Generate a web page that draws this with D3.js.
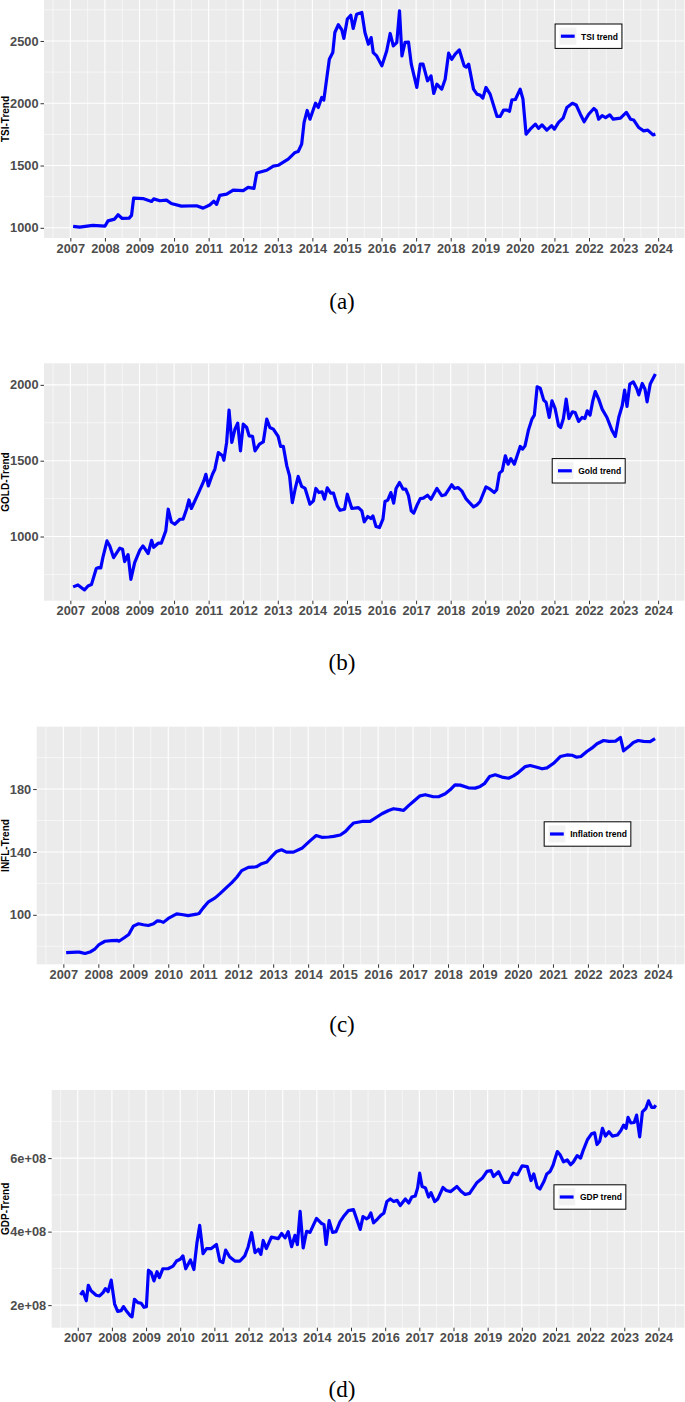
<!DOCTYPE html>
<html>
<head>
<meta charset="utf-8">
<script src="https://cdn.jsdelivr.net/npm/d3@7"></script>
<style>
  body { margin: 0; background: #fff; }
  svg { display: block; }
  .axis .tick text { font-family: "Liberation Sans", Arial, sans-serif; font-weight: bold; font-size: 12.8px; fill: #4d4d4d; }
  .axis .tick line { stroke: #333; stroke-width: 1; }
</style>
</head>
<body>
<svg id="chart" width="685" height="1402"></svg>
<script>
// series: [decimal year, value]
const tsiSeries = [
  [2007.08,1012],[2007.27,1005],[2007.65,1020],[2008.0,1013],[2008.09,1056],[2008.28,1070],[2008.38,1105],[2008.5,1075],
  [2008.70,1078],[2008.77,1100],[2008.83,1238],[2009.1,1235],[2009.35,1212],[2009.41,1232],[2009.59,1217],[2009.78,1222],
  [2009.92,1195],[2010.21,1174],[2010.65,1177],[2010.84,1158],[2011.03,1183],[2011.15,1213],[2011.23,1188],[2011.32,1260],
  [2011.52,1270],[2011.71,1302],[2012.0,1298],[2012.14,1324],[2012.31,1316],[2012.39,1440],[2012.68,1462],[2012.87,1495],
  [2013.01,1502],[2013.30,1551],[2013.50,1605],[2013.59,1613],[2013.69,1672],[2013.76,1846],[2013.85,1942],[2013.93,1872],
  [2014.09,2000],[2014.17,1966],[2014.27,2046],[2014.33,2025],[2014.49,2353],[2014.59,2407],[2014.65,2568],[2014.75,2630],
  [2014.85,2590],[2014.91,2520],[2015.01,2675],[2015.11,2707],[2015.18,2600],[2015.28,2715],[2015.43,2729],[2015.52,2568],
  [2015.62,2474],[2015.70,2527],[2015.76,2407],[2015.86,2380],[2016.01,2300],[2016.15,2421],[2016.25,2560],[2016.34,2460],
  [2016.44,2487],[2016.52,2742],[2016.59,2380],[2016.68,2488],[2016.78,2490],[2016.86,2314],[2017.02,2127],[2017.12,2314],
  [2017.20,2314],[2017.33,2180],[2017.43,2220],[2017.51,2079],[2017.60,2153],[2017.74,2113],[2017.84,2193],[2017.94,2402],
  [2018.03,2353],[2018.13,2394],[2018.25,2428],[2018.39,2300],[2018.45,2290],[2018.52,2314],[2018.66,2113],[2018.76,2073],
  [2018.85,2065],[2018.93,2041],[2019.02,2127],[2019.14,2073],[2019.34,1894],[2019.43,1894],[2019.53,1945],[2019.63,1945],
  [2019.70,1935],[2019.77,2027],[2019.87,2030],[2020.01,2113],[2020.09,2033],[2020.18,1752],[2020.30,1792],[2020.45,1832],
  [2020.54,1798],[2020.64,1826],[2020.78,1784],[2020.92,1820],[2021.0,1792],[2021.12,1846],[2021.25,1880],[2021.36,1966],
  [2021.52,2000],[2021.63,1986],[2021.75,1912],[2021.86,1851],[2021.99,1912],[2022.14,1958],[2022.21,1940],[2022.28,1872],
  [2022.38,1900],[2022.48,1885],[2022.60,1907],[2022.70,1872],[2022.91,1881],[2023.08,1926],[2023.20,1872],[2023.29,1866],
  [2023.44,1805],[2023.58,1778],[2023.70,1784],[2023.85,1746],[2023.92,1752]
];

const goldSeries = [
  [2007.08,668],[2007.22,681],[2007.41,648],[2007.51,674],[2007.61,683],[2007.75,789],[2007.82,795],[2007.88,793],
  [2007.94,861],[2008.06,971],[2008.14,938],[2008.25,861],[2008.43,923],[2008.51,916],[2008.57,835],[2008.67,881],
  [2008.75,718],[2008.86,828],[2009.01,910],[2009.10,938],[2009.25,888],[2009.35,975],[2009.41,929],[2009.54,956],
  [2009.63,956],[2009.76,1037],[2009.83,1180],[2009.92,1096],[2010.02,1081],[2010.17,1114],[2010.26,1114],[2010.36,1180],
  [2010.43,1241],[2010.50,1185],[2010.72,1294],[2010.86,1367],[2010.92,1410],[2010.99,1334],[2011.11,1411],[2011.18,1444],
  [2011.28,1554],[2011.40,1532],[2011.44,1503],[2011.52,1620],[2011.59,1833],[2011.67,1620],[2011.76,1708],[2011.84,1747],
  [2011.92,1565],[2012.0,1741],[2012.10,1719],[2012.17,1664],[2012.27,1660],[2012.34,1565],[2012.47,1609],[2012.58,1624],
  [2012.68,1774],[2012.77,1719],[2012.87,1708],[2013.01,1660],[2013.08,1594],[2013.16,1594],[2013.26,1466],[2013.34,1400],
  [2013.42,1224],[2013.50,1312],[2013.59,1396],[2013.69,1330],[2013.79,1317],[2013.93,1213],[2014.03,1235],[2014.10,1317],
  [2014.19,1290],[2014.28,1295],[2014.35,1246],[2014.43,1321],[2014.53,1286],[2014.61,1286],[2014.72,1202],[2014.80,1173],
  [2014.93,1180],[2015.01,1279],[2015.14,1185],[2015.33,1191],[2015.43,1169],[2015.50,1097],[2015.60,1132],[2015.69,1119],
  [2015.75,1136],[2015.84,1066],[2015.94,1059],[2016.04,1114],[2016.10,1231],[2016.18,1240],[2016.27,1290],[2016.35,1220],
  [2016.42,1317],[2016.52,1356],[2016.62,1313],[2016.70,1313],[2016.78,1269],[2016.86,1169],[2016.93,1154],[2017.04,1213],
  [2017.12,1250],[2017.21,1253],[2017.33,1272],[2017.43,1246],[2017.60,1317],[2017.74,1269],[2017.84,1275],[2018.03,1341],
  [2018.11,1317],[2018.21,1323],[2018.32,1301],[2018.45,1246],[2018.66,1195],[2018.76,1209],[2018.85,1231],[2019.02,1327],
  [2019.14,1312],[2019.26,1290],[2019.33,1308],[2019.41,1418],[2019.49,1433],[2019.58,1532],[2019.66,1477],[2019.74,1514],
  [2019.84,1477],[2020.01,1594],[2020.08,1576],[2020.15,1598],[2020.25,1703],[2020.35,1774],[2020.42,1800],[2020.50,1987],
  [2020.59,1978],[2020.69,1899],[2020.76,1884],[2020.85,1785],[2020.93,1895],[2021.02,1844],[2021.12,1730],[2021.18,1719],
  [2021.26,1778],[2021.34,1906],[2021.42,1778],[2021.52,1822],[2021.60,1818],[2021.70,1759],[2021.80,1785],[2021.88,1778],
  [2021.95,1829],[2022.03,1800],[2022.11,1895],[2022.18,1956],[2022.28,1906],[2022.38,1840],[2022.52,1785],[2022.67,1697],
  [2022.76,1660],[2022.86,1785],[2022.96,1862],[2023.03,1965],[2023.10,1858],[2023.18,2005],[2023.28,2020],[2023.38,1976],
  [2023.44,1934],[2023.54,2009],[2023.62,1971],[2023.68,1888],[2023.77,2005],[2023.92,2071]
];

const inflSeries = [
  [2007.08,75.9],[2007.38,76.3],[2007.46,76.3],[2007.62,75.4],[2007.76,76.3],[2007.91,78.4],[2008.02,81.1],[2008.19,83.2],
  [2008.38,83.6],[2008.53,83.8],[2008.59,83.2],[2008.74,85.4],[2008.87,87.5],[2009.0,92.8],[2009.15,94.3],[2009.29,93.7],
  [2009.43,93.2],[2009.58,94.3],[2009.69,96.2],[2009.77,96.0],[2009.86,95.2],[2010.0,97.7],[2010.24,100.6],[2010.38,100.2],
  [2010.57,99.5],[2010.81,100.4],[2010.88,100.8],[2011.0,104.4],[2011.15,108.3],[2011.34,110.8],[2011.48,113.5],[2011.67,117.5],
  [2011.81,120.3],[2011.96,123.9],[2012.10,128.1],[2012.29,130.2],[2012.53,130.6],[2012.67,132.5],[2012.82,133.6],[2012.96,137.2],
  [2013.10,140.3],[2013.24,141.4],[2013.38,139.9],[2013.58,139.9],[2013.82,142.3],[2014.06,147.2],[2014.23,150.4],[2014.39,149.3],
  [2014.59,149.5],[2014.73,149.9],[2014.92,150.8],[2015.07,153.1],[2015.20,156.3],[2015.30,158.4],[2015.54,159.4],[2015.77,159.4],
  [2015.92,161.6],[2016.11,164.3],[2016.30,166.4],[2016.44,167.5],[2016.62,166.9],[2016.73,166.4],[2016.88,169.6],[2017.01,172.1],
  [2017.20,175.7],[2017.35,176.4],[2017.58,175.1],[2017.73,175.1],[2017.92,177.0],[2018.06,179.5],[2018.20,182.7],[2018.35,182.5],
  [2018.58,180.8],[2018.78,180.6],[2018.92,181.7],[2019.04,183.4],[2019.19,188.0],[2019.35,189.1],[2019.54,187.6],[2019.73,186.9],
  [2019.87,188.4],[2020.01,190.5],[2020.21,194.3],[2020.35,195.0],[2020.54,193.9],[2020.69,192.9],[2020.83,193.5],[2021.02,196.4],
  [2021.21,200.7],[2021.40,201.7],[2021.55,201.5],[2021.68,200.3],[2021.80,200.7],[2021.97,203.9],[2022.11,206.0],[2022.26,208.8],
  [2022.45,210.9],[2022.60,210.3],[2022.79,210.5],[2022.93,212.8],[2023.02,204.3],[2023.17,207.0],[2023.30,209.6],[2023.44,210.9],
  [2023.59,210.3],[2023.78,210.2],[2023.92,212.1]
];

const gdpSeries = [
  [2007.08,2.28e8],[2007.15,2.37e8],[2007.25,2.12e8],[2007.31,2.54e8],[2007.39,2.39e8],[2007.54,2.27e8],[2007.64,2.25e8],[2007.74,2.34e8],
  [2007.81,2.45e8],[2007.89,2.37e8],[2007.98,2.68e8],[2008.08,2.03e8],[2008.17,1.83e8],[2008.27,1.85e8],[2008.34,1.96e8],[2008.42,1.85e8],
  [2008.54,1.71e8],[2008.59,1.68e8],[2008.66,2.16e8],[2008.76,2.07e8],[2008.86,2.05e8],[2008.94,1.94e8],[2009.01,1.96e8],[2009.07,2.95e8],
  [2009.15,2.89e8],[2009.23,2.66e8],[2009.32,2.91e8],[2009.39,2.75e8],[2009.49,2.99e8],[2009.64,2.99e8],[2009.79,3.06e8],[2009.89,3.20e8],
  [2010.0,3.25e8],[2010.08,3.34e8],[2010.16,2.99e8],[2010.30,3.23e8],[2010.40,2.97e8],[2010.49,3.70e8],[2010.57,4.17e8],[2010.67,3.40e8],
  [2010.77,3.54e8],[2010.91,3.54e8],[2011.06,3.65e8],[2011.16,3.20e8],[2011.25,3.16e8],[2011.33,3.50e8],[2011.45,3.31e8],[2011.60,3.20e8],
  [2011.75,3.20e8],[2011.89,3.34e8],[2011.99,3.59e8],[2012.09,3.97e8],[2012.19,3.43e8],[2012.29,3.52e8],[2012.36,3.38e8],[2012.43,3.76e8],
  [2012.52,3.54e8],[2012.67,3.85e8],[2012.87,3.81e8],[2012.97,3.95e8],[2013.07,3.83e8],[2013.16,4.00e8],[2013.26,3.59e8],[2013.36,3.90e8],
  [2013.43,3.65e8],[2013.51,4.55e8],[2013.60,3.56e8],[2013.70,4.01e8],[2013.80,3.98e8],[2013.99,4.36e8],[2014.14,4.22e8],[2014.21,4.19e8],
  [2014.27,3.65e8],[2014.36,4.30e8],[2014.46,3.98e8],[2014.56,4.00e8],[2014.68,4.27e8],[2014.78,4.41e8],[2014.92,4.57e8],[2015.07,4.60e8],
  [2015.17,4.33e8],[2015.27,4.06e8],[2015.35,4.41e8],[2015.45,4.35e8],[2015.51,4.38e8],[2015.58,4.51e8],[2015.66,4.24e8],[2015.78,4.35e8],
  [2015.88,4.45e8],[2015.96,4.50e8],[2016.05,4.82e8],[2016.15,4.89e8],[2016.25,4.82e8],[2016.35,4.85e8],[2016.44,4.71e8],[2016.59,4.89e8],
  [2016.69,4.78e8],[2016.78,4.94e8],[2016.88,4.97e8],[2016.95,5.19e8],[2017.01,5.59e8],[2017.08,5.23e8],[2017.18,5.19e8],[2017.27,4.94e8],
  [2017.34,5.06e8],[2017.45,4.82e8],[2017.54,4.89e8],[2017.69,5.20e8],[2017.79,5.12e8],[2017.92,5.09e8],[2018.10,5.23e8],[2018.22,5.10e8],
  [2018.34,5.01e8],[2018.47,5.04e8],[2018.69,5.34e8],[2018.84,5.45e8],[2018.98,5.64e8],[2019.10,5.66e8],[2019.17,5.50e8],[2019.32,5.63e8],
  [2019.47,5.34e8],[2019.61,5.34e8],[2019.75,5.59e8],[2019.87,5.55e8],[2020.01,5.79e8],[2020.16,5.77e8],[2020.27,5.39e8],[2020.35,5.57e8],
  [2020.45,5.21e8],[2020.53,5.16e8],[2020.65,5.37e8],[2020.73,5.57e8],[2020.83,5.64e8],[2020.92,5.82e8],[2020.96,5.95e8],[2021.04,6.18e8],
  [2021.12,6.09e8],[2021.22,5.90e8],[2021.33,5.95e8],[2021.43,5.82e8],[2021.51,5.90e8],[2021.62,6.07e8],[2021.72,6.00e8],[2021.80,6.22e8],
  [2021.92,6.50e8],[2022.04,6.66e8],[2022.13,6.69e8],[2022.20,6.37e8],[2022.28,6.46e8],[2022.36,6.81e8],[2022.45,6.60e8],[2022.55,6.72e8],
  [2022.65,6.60e8],[2022.80,6.63e8],[2022.90,6.75e8],[2022.98,6.90e8],[2023.05,6.81e8],[2023.11,7.11e8],[2023.19,6.96e8],[2023.29,6.97e8],
  [2023.36,7.17e8],[2023.45,6.58e8],[2023.53,7.26e8],[2023.63,7.35e8],[2023.71,7.56e8],[2023.80,7.38e8],[2023.88,7.38e8],[2023.92,7.44e8]
];

// tick labels
const yearTicks = d3.range(2007, 2025);
const tsiTicks = [1000, 1500, 2000, 2500];
const goldTicks = [1000, 1500, 2000];
const inflTicks = [100, 140, 180];
const gdpTicks = [2e8, 4e8, 6e8];

const svg = d3.select('#chart');
const panelRight = 684.5;
const font = '"Liberation Sans", Arial, sans-serif';

// panel placement (ggplot layout), one per sub-figure
const panels = [
  { series: tsiSeries, ticks: tsiTicks, fmt: d3.format('d'), yTitle: 'TSI-Trend', legend: 'TSI trend',
    left: 44, top: 0, bottom: 238, legendX: 588.5, legendY: 36.2, caption: '(a)', captionY: 309 },
  { series: goldSeries, ticks: goldTicks, fmt: d3.format('d'), yTitle: 'GOLD-Trend', legend: 'Gold trend',
    left: 44, top: 363.3, bottom: 600.7, legendX: 588.7, legendY: 470.8, caption: '(b)', captionY: 670 },
  { series: inflSeries, ticks: inflTicks, fmt: d3.format('d'), yTitle: 'INFL-Trend', legend: 'Inflation trend',
    left: 36.7, top: 726.7, bottom: 964.3, legendX: 587.5, legendY: 834, caption: '(c)', captionY: 1032 },
  { series: gdpSeries, ticks: gdpTicks, fmt: d => (d / 1e8) + 'e+08', yTitle: 'GDP-Trend', legend: 'GDP trend',
    left: 51.7, top: 1090, bottom: 1327.7, legendX: 589.9, legendY: 1197, caption: '(d)', captionY: 1397 }
];

// shared x domain: data range plus 5% each side like ggplot
const allDates = panels.flatMap(p => p.series.map(d => d[0]));
const dExt = d3.extent(allDates);
const dPad = (dExt[1] - dExt[0]) * 0.05;
const xDomain = [dExt[0] - dPad, dExt[1] + dPad];

function drawPanel(p) {
  const g = svg.append('g');

  const x = d3.scaleLinear().domain(xDomain).range([p.left, panelRight]);
  const ext = d3.extent(p.series, d => d[1]);
  const pad = (ext[1] - ext[0]) * 0.05;
  const y = d3.scaleLinear().domain([ext[0] - pad, ext[1] + pad]).range([p.bottom, p.top]);

  g.append('rect')
    .attr('x', p.left).attr('y', p.top)
    .attr('width', panelRight - p.left).attr('height', p.bottom - p.top)
    .attr('fill', '#ebebeb');

  // minor grid
  const step = p.ticks[1] - p.ticks[0];
  const yMinor = d3.range(p.ticks[0] - step / 2, y.domain()[1], step).filter(v => v > y.domain()[0]);
  const xMinor = yearTicks.map(t => t - 0.5).concat([yearTicks[yearTicks.length - 1] + 0.5]);

  g.selectAll('.ymin').data(yMinor).join('line')
    .attr('x1', p.left).attr('x2', panelRight)
    .attr('y1', d => y(d)).attr('y2', d => y(d))
    .attr('stroke', '#fff').attr('stroke-width', 0.55);
  g.selectAll('.xmin').data(xMinor).join('line')
    .attr('x1', d => x(d)).attr('x2', d => x(d))
    .attr('y1', p.top).attr('y2', p.bottom)
    .attr('stroke', '#fff').attr('stroke-width', 0.55);

  // major grid
  g.selectAll('.ymaj').data(p.ticks).join('line')
    .attr('x1', p.left).attr('x2', panelRight)
    .attr('y1', d => y(d)).attr('y2', d => y(d))
    .attr('stroke', '#fff').attr('stroke-width', 1.1);
  g.selectAll('.xmaj').data(yearTicks).join('line')
    .attr('x1', d => x(d)).attr('x2', d => x(d))
    .attr('y1', p.top).attr('y2', p.bottom)
    .attr('stroke', '#fff').attr('stroke-width', 1.1);

  // the trend line
  const line = d3.line().x(d => x(d[0])).y(d => y(d[1]));
  g.append('path')
    .datum(p.series)
    .attr('d', line)
    .attr('fill', 'none')
    .attr('stroke', '#0000ff')
    .attr('stroke-width', 3.2)
    .attr('stroke-linejoin', 'round');

  // axes
  const yAxisG = g.append('g')
    .attr('class', 'axis')
    .attr('transform', `translate(${p.left},0)`)
    .call(d3.axisLeft(y).tickValues(p.ticks).tickFormat(p.fmt).tickSize(3.5).tickPadding(2));
  yAxisG.select('.domain').remove();

  const xAxisG = g.append('g')
    .attr('class', 'axis')
    .attr('transform', `translate(0,${p.bottom})`)
    .call(d3.axisBottom(x).tickValues(yearTicks).tickFormat(d3.format('d')).tickSize(3.5).tickPadding(2));
  xAxisG.select('.domain').remove();

  // y title
  g.append('text')
    .attr('transform', `translate(9,${(p.top + p.bottom) / 2}) rotate(-90)`)
    .attr('text-anchor', 'middle')
    .attr('font-family', font)
    .attr('font-weight', 'bold')
    .attr('font-size', 10)
    .attr('fill', '#000')
    .text(p.yTitle);

  // legend box
  const lg = g.append('g');
  const box = lg.append('rect');
  const key = lg.append('rect');
  const keyLine = lg.append('line');
  const txt = lg.append('text')
    .attr('font-family', font)
    .attr('font-weight', 'bold')
    .attr('font-size', 8.5)
    .attr('fill', '#000')
    .attr('dominant-baseline', 'central')
    .text(p.legend);
  const tw = txt.node().getComputedTextLength();
  const w = tw + 30, h = 24.4;
  const bx = p.legendX - w / 2, by = p.legendY - h / 2;
  box.attr('x', bx).attr('y', by).attr('width', w).attr('height', h)
    .attr('fill', '#fff').attr('stroke', '#000').attr('stroke-width', 1);
  key.attr('x', bx + 4.3).attr('y', by + 3.6).attr('width', 17).attr('height', 17).attr('fill', '#f2f2f2');
  keyLine.attr('x1', bx + 5.8).attr('x2', bx + 19.6)
    .attr('y1', p.legendY).attr('y2', p.legendY)
    .attr('stroke', '#0000ff').attr('stroke-width', 3.2);
  txt.attr('x', bx + 26).attr('y', p.legendY + 0.3);

  // caption
  svg.append('text')
    .attr('x', 342).attr('y', p.captionY)
    .attr('text-anchor', 'middle')
    .attr('font-family', '"Liberation Serif", "DejaVu Serif", serif')
    .attr('font-size', 23)
    .attr('fill', '#000')
    .text(p.caption);
}

panels.forEach(drawPanel);
</script>
</body>
</html>
